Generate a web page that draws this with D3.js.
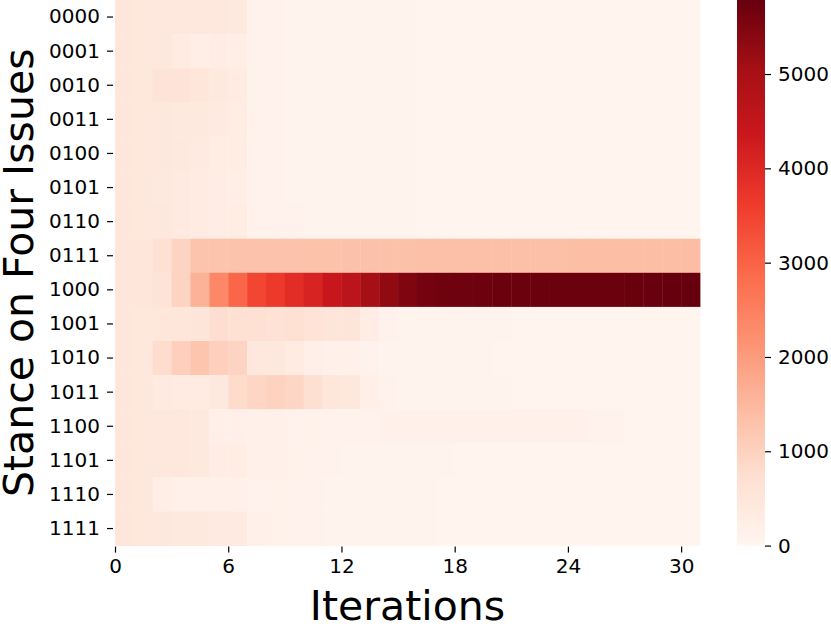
<!DOCTYPE html>
<html>
<head>
  <meta charset="utf-8">
  <script src="https://d3js.org/d3.v7.min.js"></script>
  <style>
    body { margin: 0; background: #fff; }
    text { font-family: "DejaVu Sans", sans-serif; fill: #000; }
  </style>
</head>
<body>
<script>

  // stances (rows) and iterations (columns)
  var stances = ["0000","0001","0010","0011","0100","0101","0110","0111",
                 "1000","1001","1010","1011","1100","1101","1110","1111"];
  var iterations = d3.range(0, 31);
  var xTicks = [0, 6, 12, 18, 24, 30];
  var cbTicks = [0, 1000, 2000, 3000, 4000, 5000];
  var vmax = 5785;

  // counts per stance, one entry per iteration
  var r0000 = [520,480,450,450,470,450,430,100,90,80,80,70,60,60,55,55,50,50,50,50,50,50,50,50,50,50,50,50,50,50,50];
  var r0001 = [520,460,440,350,250,260,250,100,90,80,80,70,60,60,55,55,50,50,50,50,50,50,50,50,50,50,50,50,50,50,50];
  var r0010 = [520,480,570,580,530,420,330,110,90,80,80,70,60,60,55,55,50,50,50,50,50,50,50,50,50,50,50,50,50,50,50];
  var r0011 = [520,490,480,430,400,380,320,110,90,80,80,70,60,60,55,55,50,50,50,50,50,50,50,50,50,50,50,50,50,50,50];
  var r0100 = [520,490,460,400,380,320,280,100,90,80,80,70,60,60,55,55,50,50,50,50,50,50,50,50,50,50,50,50,50,50,50];
  var r0101 = [520,480,430,380,330,270,250,100,90,80,80,70,60,60,55,55,50,50,50,50,50,50,50,50,50,50,50,50,50,50,50];
  var r0110 = [520,490,470,380,330,300,290,120,100,90,80,70,60,60,55,55,50,50,50,50,50,50,50,50,50,50,50,50,50,50,50];
  var r0111 = [500,500,700,950,1280,1270,1290,1300,1300,1300,1310,1310,1320,1320,1330,1330,1340,1340,1350,1350,1350,1360,1360,1360,1370,1370,1380,1380,1390,1390,1400];
  var r1000 = [500,500,600,980,1600,2350,2950,3450,3650,3900,4100,4400,4650,5050,5300,5500,5620,5680,5700,5720,5730,5740,5740,5740,5750,5750,5750,5760,5770,5780,5785];
  var r1001 = [500,490,510,500,560,760,700,700,640,700,620,560,540,300,100,80,70,60,60,55,55,50,50,50,50,50,50,50,50,50,50];
  var r1010 = [500,480,780,1050,1250,1050,950,480,480,350,200,180,170,90,80,70,60,60,55,55,50,50,50,50,50,50,50,50,50,50,50];
  var r1011 = [500,490,380,330,330,420,820,920,1000,920,720,520,480,220,90,80,70,60,60,55,55,50,50,50,50,50,50,50,50,50,50];
  var r1100 = [500,490,440,440,400,200,190,170,150,130,110,100,100,130,140,150,150,150,150,150,150,150,150,150,150,130,130,50,50,50,50];
  var r1101 = [500,490,450,450,420,300,280,180,150,120,100,90,80,70,60,60,55,55,50,50,50,50,50,50,50,50,50,50,50,50,50];
  var r1110 = [500,490,250,170,170,160,150,130,110,100,90,80,70,60,60,55,55,50,50,50,50,50,50,50,50,50,50,50,50,50,50];
  var r1111 = [500,470,440,400,400,380,370,150,120,100,90,80,70,60,60,55,55,50,50,50,50,50,50,50,50,50,50,50,50,50,50];

  var counts = [r0000,r0001,r0010,r0011,r0100,r0101,r0110,r0111,
                r1000,r1001,r1010,r1011,r1100,r1101,r1110,r1111];

  var width = 831, height = 628;
  var plotLeft = 115, plotRight = 700, plotTop = 0, plotBottom = 545.6;

  // matplotlib "Reds" (linear between the 9 brewer colours)
  var reds = ["#fff5f0","#fee0d2","#fcbba1","#fc9272","#fb6a4a","#ef3b2c","#cb181d","#a50f15","#67000d"];
  var color = d3.scaleLinear()
      .domain(reds.map(function(d, i){ return i / 8 * vmax; }))
      .range(reds)
      .interpolate(d3.interpolateRgb)
      .clamp(true);

  var x = d3.scaleLinear().domain([0, iterations.length]).range([plotLeft, plotRight]);
  var y = d3.scaleBand().domain(stances).range([plotTop, plotBottom]);

  var svg = d3.select("body").append("svg")
      .attr("width", width)
      .attr("height", height);

  // cells
  var cells = [];
  counts.forEach(function(row, i){
    row.forEach(function(v, j){
      cells.push({stance: stances[i], it: iterations[j], value: v});
    });
  });

  svg.append("g").selectAll("rect")
      .data(cells)
      .enter().append("rect")
      .attr("x", function(d){ return x(d.it); })
      .attr("y", function(d){ return y(d.stance); })
      .attr("width", x(1) - x(0) + 0.4)
      .attr("height", y.bandwidth() + 0.4)
      .style("fill", function(d){ return color(d.value); });

  // y axis
  var yAxis = svg.append("g")
      .attr("transform", "translate(" + (plotLeft - 2) + ",0)")
      .call(d3.axisLeft(y).tickSize(6).tickPadding(7));
  yAxis.select(".domain").remove();
  yAxis.selectAll("text").style("font-size", "20px");
  yAxis.selectAll("line").attr("stroke-width", 1.2);

  // x axis
  var xAxis = svg.append("g")
      .attr("transform", "translate(0," + (plotBottom + 1) + ")")
      .call(d3.axisBottom(x).tickValues(xTicks).tickSize(6).tickPadding(6));
  xAxis.select(".domain").remove();
  xAxis.selectAll("text").style("font-size", "20px");
  xAxis.selectAll("line").attr("stroke-width", 1.2);

  // axis titles
  svg.append("text")
      .attr("x", (plotLeft + plotRight) / 2)
      .attr("y", 620)
      .attr("text-anchor", "middle")
      .style("font-size", "41px")
      .text("Iterations");

  svg.append("text")
      .attr("transform", "translate(33," + (plotBottom / 2) + ") rotate(-90)")
      .attr("text-anchor", "middle")
      .style("font-size", "41px")
      .text("Stance on Four Issues");

  // colour bar
  var cbLeft = 737, cbWidth = 28;
  var cbScale = d3.scaleLinear().domain([0, vmax]).range([plotBottom, plotTop]);

  var defs = svg.append("defs");
  var grad = defs.append("linearGradient")
      .attr("id", "cbgrad")
      .attr("x1", 0).attr("y1", 1).attr("x2", 0).attr("y2", 0);
  reds.forEach(function(c, i){
    grad.append("stop").attr("offset", (i / 8 * 100) + "%").attr("stop-color", c);
  });

  svg.append("rect")
      .attr("x", cbLeft)
      .attr("y", cbScale(vmax))
      .attr("width", cbWidth)
      .attr("height", cbScale(0) - cbScale(vmax))
      .style("fill", "url(#cbgrad)");

  var cbAxis = svg.append("g")
      .attr("transform", "translate(" + (cbLeft + cbWidth) + ",0)")
      .call(d3.axisRight(cbScale).tickValues(cbTicks).tickSize(6).tickPadding(7).tickFormat(d3.format("d")));
  cbAxis.select(".domain").remove();
  cbAxis.selectAll("text").style("font-size", "20px");
  cbAxis.selectAll("line").attr("stroke-width", 1.2);

</script>
</body>
</html>
